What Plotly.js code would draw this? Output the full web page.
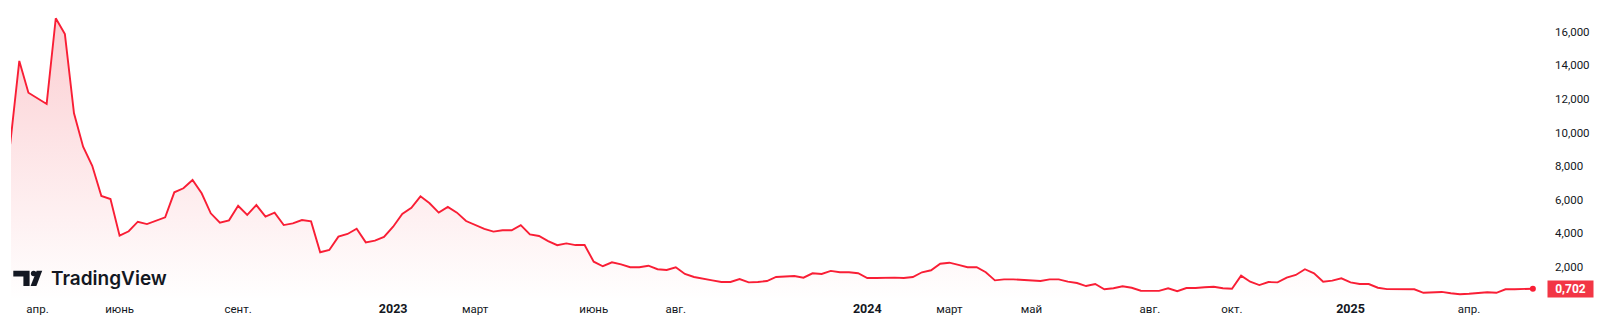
<!DOCTYPE html>
<html>
<head>
<meta charset="utf-8">
<script src="https://cdn.plot.ly/plotly-3.0.1.min.js"></script>
<style>
  html, body { margin: 0; padding: 0; background: #ffffff; }
  #chart { width: 1600px; height: 330px; }
</style>
</head>
<body>
<div id="chart"></div>
<script>
// Weekly bars (Monday of each week)
const dates = [
  "2022-03-14","2022-03-21","2022-03-28","2022-04-04","2022-04-11","2022-04-18","2022-04-25",
  "2022-05-02","2022-05-09","2022-05-16","2022-05-23","2022-05-30","2022-06-06","2022-06-13",
  "2022-06-20","2022-06-27","2022-07-04","2022-07-11","2022-07-18","2022-07-25","2022-08-01",
  "2022-08-08","2022-08-15","2022-08-22","2022-08-29","2022-09-05","2022-09-12","2022-09-19",
  "2022-09-26","2022-10-03","2022-10-10","2022-10-17","2022-10-24","2022-10-31","2022-11-07",
  "2022-11-14","2022-11-21","2022-11-28","2022-12-05","2022-12-12","2022-12-19","2022-12-26",
  "2023-01-02","2023-01-09","2023-01-16","2023-01-23","2023-01-30","2023-02-06","2023-02-13",
  "2023-02-20","2023-02-27","2023-03-06","2023-03-13","2023-03-20","2023-03-27","2023-04-03",
  "2023-04-10","2023-04-17","2023-04-24","2023-05-01","2023-05-08","2023-05-15","2023-05-22",
  "2023-05-29","2023-06-05","2023-06-12","2023-06-19","2023-06-26","2023-07-03","2023-07-10",
  "2023-07-17","2023-07-24","2023-07-31","2023-08-07","2023-08-14","2023-08-21","2023-08-28",
  "2023-09-04","2023-09-11","2023-09-18","2023-09-25","2023-10-02","2023-10-09","2023-10-16",
  "2023-10-23","2023-10-30","2023-11-06","2023-11-13","2023-11-20","2023-11-27","2023-12-04",
  "2023-12-11","2023-12-18","2023-12-25","2024-01-01","2024-01-08","2024-01-15","2024-01-22",
  "2024-01-29","2024-02-05","2024-02-12","2024-02-19","2024-02-26","2024-03-04","2024-03-11",
  "2024-03-18","2024-03-25","2024-04-01","2024-04-08","2024-04-15","2024-04-22","2024-04-29",
  "2024-05-06","2024-05-13","2024-05-20","2024-05-27","2024-06-03","2024-06-10","2024-06-17",
  "2024-06-24","2024-07-01","2024-07-08","2024-07-15","2024-07-22","2024-07-29","2024-08-05",
  "2024-08-12","2024-08-19","2024-08-26","2024-09-02","2024-09-09","2024-09-16","2024-09-23",
  "2024-09-30","2024-10-07","2024-10-14","2024-10-21","2024-10-28","2024-11-04","2024-11-11",
  "2024-11-18","2024-11-25","2024-12-02","2024-12-09","2024-12-16","2024-12-23","2024-12-30",
  "2025-01-06","2025-01-13","2025-01-20","2025-01-27","2025-02-03","2025-02-10","2025-02-17",
  "2025-02-24","2025-03-03","2025-03-10","2025-03-17","2025-03-24","2025-03-31","2025-04-07",
  "2025-04-14","2025-04-21","2025-04-28","2025-05-05","2025-05-12","2025-05-19","2025-05-26"
];

const prices = [
  9.30, 14.26, 12.37, 12.04, 11.70, 16.80, 15.86, 11.14, 9.15, 8.02,
  6.22, 6.04, 3.86, 4.12, 4.69, 4.55, 4.75, 4.95, 6.44, 6.68,
  7.17, 6.38, 5.19, 4.63, 4.77, 5.64, 5.09, 5.68, 4.99, 5.23,
  4.49, 4.59, 4.79, 4.71, 2.87, 3.01, 3.80, 3.96, 4.27, 3.46,
  3.56, 3.78, 4.39, 5.15, 5.52, 6.20, 5.79, 5.23, 5.57, 5.23,
  4.73, 4.49, 4.26, 4.10, 4.18, 4.18, 4.49, 3.94, 3.84, 3.54,
  3.29, 3.40, 3.30, 3.30, 2.31, 2.04, 2.27, 2.15, 1.98, 1.98,
  2.07, 1.86, 1.82, 1.98, 1.58, 1.40, 1.32, 1.20, 1.10, 1.10,
  1.28, 1.08, 1.10, 1.16, 1.40, 1.44, 1.46, 1.36, 1.62, 1.58,
  1.76, 1.68, 1.68, 1.62, 1.34, 1.34, 1.36, 1.36, 1.34, 1.40,
  1.68, 1.80, 2.19, 2.25, 2.12, 1.98, 1.98, 1.68, 1.20, 1.26,
  1.26, 1.24, 1.18, 1.16, 1.26, 1.26, 1.12, 1.04, 0.86, 0.98,
  0.67, 0.73, 0.85, 0.76, 0.58, 0.57, 0.57, 0.73, 0.55, 0.74,
  0.74, 0.79, 0.82, 0.73, 0.70, 1.48, 1.12, 0.92, 1.10, 1.08,
  1.36, 1.52, 1.86, 1.62, 1.12, 1.18, 1.32, 1.08, 0.98, 0.98,
  0.76, 0.68, 0.68, 0.68, 0.67, 0.46, 0.49, 0.51, 0.43, 0.37,
  0.40, 0.45, 0.49, 0.46, 0.67, 0.67, 0.67, 0.702
];

const xTickVals = [
  "2022-04-04","2022-06-06","2022-09-05","2023-01-02","2023-03-06","2023-06-05","2023-08-07",
  "2024-01-01","2024-03-04","2024-05-06","2024-08-05","2024-10-07","2025-01-06","2025-04-07"
];
const xTickText = [
  "апр.","июнь","сент.","2023","март","июнь","авг.",
  "2024","март","май","авг.","окт.","2025","апр."
];
const yearLabels = ["2023","2024","2025"];

// ---- layout geometry ----
const W = 1600, H = 330;
const M = { l: 11, r: 53, t: 0, b: 30 };
const plotW = W - M.l - M.r, plotH = H - M.t - M.b;
const WEEK = 7 * 86400000;
const t0 = Date.parse(dates[0] + "T00:00:00Z");
const toIso = ms => new Date(ms).toISOString().replace("T", " ").replace("Z", "");
const xRange = [toIso(t0 + 0.09 * WEEK), toIso(t0 + 168.55 * WEEK)];
const yRange = [0.0298, 17.887];

const RED = "#F23645";
const LINE_RED = "#F91E35";
const px = X => (X - M.l) / plotW;
const py = Y => (H - M.b - Y) / plotH;

const tickText = xTickText.map(t => yearLabels.includes(t)
  ? '<span style="font-size:12.5px;font-weight:bold">' + t + '</span>' : t);

const last = prices.length - 1;
const lastLabel = prices[last].toFixed(3).replace(".", ",");

const traces = [
  {
    x: dates, y: prices, type: "scatter", mode: "lines",
    line: { color: LINE_RED, width: 1.9 },
    fill: "tozeroy",
    fillgradient: {
      type: "vertical", start: 0, stop: yRange[1],
      colorscale: [[0, "rgba(242,54,69,0.0)"], [1, "rgba(242,54,69,0.26)"]]
    },
    hoverinfo: "skip"
  },
  {
    x: [dates[last]], y: [prices[last]], type: "scatter", mode: "markers",
    marker: { color: LINE_RED, size: 6 }, hoverinfo: "skip"
  }
];

// TradingView logo icon (pixel geometry converted to paper coords)
function pathFrom(pts) {
  return "M " + pts.map(p => px(p[0]).toFixed(5) + "," + py(p[1]).toFixed(5)).join(" L ") + " Z";
}
const shapes = [
  { type: "path", xref: "paper", yref: "paper", line: { width: 0 }, fillcolor: "#131722",
    path: pathFrom([[13.3,270.7],[29.6,270.7],[29.6,286],[23.4,286],[23.4,276.5],[13.3,276.5]]) },
  { type: "circle", xref: "paper", yref: "paper", line: { width: 0 }, fillcolor: "#131722",
    x0: px(30.9), x1: px(36.4), y0: py(276.3), y1: py(270.8) },
  { type: "path", xref: "paper", yref: "paper", line: { width: 0 }, fillcolor: "#131722",
    path: pathFrom([[36.6,270.7],[42.2,270.7],[36.4,286],[30.6,286]]) }
];

const annotations = [
  { xref: "paper", yref: "paper", x: px(49), y: py(278.6), xanchor: "left", yanchor: "middle",
    text: "TradingView", showarrow: false,
    font: { family: "Inter, Roboto, sans-serif", size: 19, color: "#131722", weight: 600 } },
  { xref: "paper", yref: "y", x: 1, y: prices[last], xanchor: "left", yanchor: "middle",
    text: "<b>" + lastLabel + "</b>", showarrow: false,
    bgcolor: RED, borderpad: 1, width: 43, height: 14,
    font: { family: "Roboto, sans-serif", size: 12, color: "#ffffff" } }
];

const layout = {
  width: W, height: H,
  margin: M,
  paper_bgcolor: "#ffffff", plot_bgcolor: "#ffffff",
  showlegend: false,
  separators: ", ",
  xaxis: {
    type: "date", range: xRange,
    tickmode: "array", tickvals: xTickVals, ticktext: tickText,
    showgrid: false, zeroline: false, showline: false, ticks: "",
    tickfont: { family: "Roboto, sans-serif", size: 11.5, color: "#131722" },
    fixedrange: true
  },
  yaxis: {
    side: "right", range: yRange,
    tick0: 0, dtick: 2, tickformat: ".3f",
    showgrid: false, zeroline: false, showline: false, ticks: "",
    ticklabelstandoff: 7,
    tickfont: { family: "Roboto, sans-serif", size: 11.5, color: "#131722" },
    fixedrange: true
  },
  shapes: shapes,
  annotations: annotations
};

Plotly.newPlot("chart", traces, layout, { staticPlot: true, displayModeBar: false });
</script>
</body>
</html>
